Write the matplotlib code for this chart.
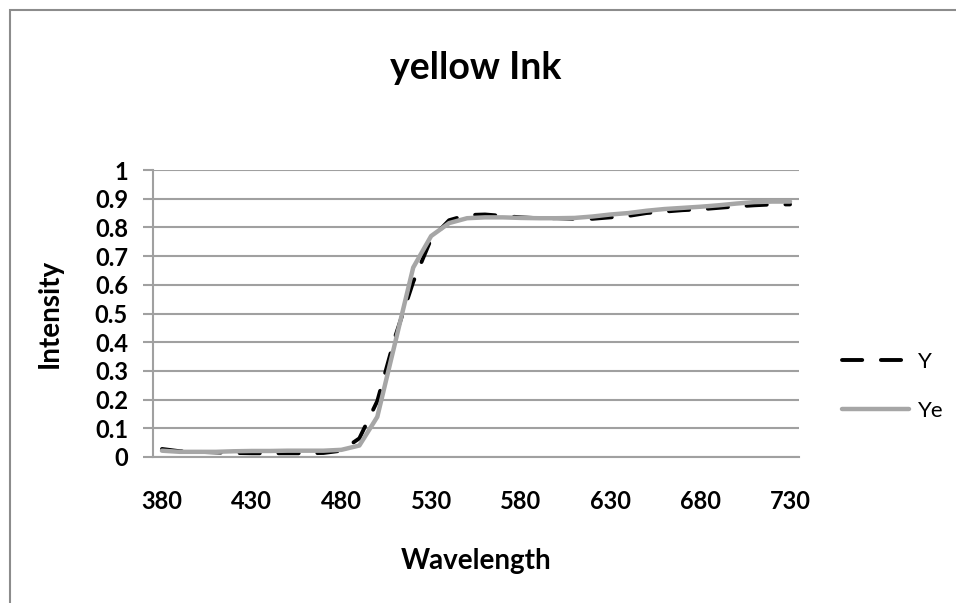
import matplotlib
matplotlib.use("Agg")
import matplotlib.pyplot as plt
from matplotlib.patches import Rectangle
import numpy as np

# Spectral data, 380-730 nm in 10 nm steps
wavelengths = list(range(380, 731, 10))
tick_labels = ["380", "430", "480", "530", "580", "630", "680", "730"]

y_measured = [0.028, 0.020, 0.018, 0.016, 0.014, 0.013, 0.013, 0.013, 0.013, 0.014,
              0.022, 0.065, 0.195, 0.420, 0.610, 0.760, 0.825, 0.843, 0.845, 0.840,
              0.835, 0.832, 0.832, 0.830, 0.830, 0.835, 0.840, 0.850, 0.855, 0.860,
              0.863, 0.868, 0.873, 0.877, 0.880, 0.880]

ye_estimated = [0.022, 0.018, 0.018, 0.018, 0.020, 0.021, 0.021, 0.022, 0.022, 0.022,
                0.025, 0.040, 0.140, 0.400, 0.660, 0.770, 0.815, 0.832, 0.835, 0.835,
                0.833, 0.832, 0.832, 0.833, 0.838, 0.845, 0.850, 0.858, 0.864, 0.868,
                0.872, 0.877, 0.883, 0.888, 0.890, 0.890]

FONT = ["Lato", "DejaVu Sans"]
GRID = "#a0a0a0"
W, H = 956, 603

fig = plt.figure(figsize=(W / 100, H / 100), dpi=100)

# chart-area frame (runs off the right and bottom edges)
fig.patches.append(Rectangle((10 / W, -0.1), 1.2, 1.1 - 10 / H,
                             transform=fig.transFigure, fill=False,
                             edgecolor="#8c8c8c", linewidth=1.5))

ax = fig.add_axes([153 / W, (H - 457) / H, 646 / W, 287 / H])

x = np.arange(len(wavelengths))
ax.plot(x, y_measured, color="black", linewidth=2.8, dashes=(5.2, 4.8),
        solid_capstyle="round", dash_capstyle="round", label="Y", zorder=3)
ax.plot(x, ye_estimated, color="#a6a6a6", linewidth=3.2,
        solid_capstyle="round", label="Ye", zorder=4)

ax.set_xlim(-0.5, len(wavelengths) - 0.5)
ax.set_ylim(0, 1)
ax.set_xticks(x[::5])
ax.set_xticklabels(tick_labels)
ax.set_yticks(np.round(np.arange(0, 1.01, 0.1), 1))
ax.set_yticklabels(["0"] + [f"{v:.1f}" for v in np.arange(0.1, 0.95, 0.1)] + ["1"])

ax.yaxis.grid(True, color=GRID, linewidth=1.5)
ax.set_axisbelow(True)
for side in ("top", "right"):
    ax.spines[side].set_visible(False)
for side in ("left", "bottom"):
    ax.spines[side].set_color(GRID)
    ax.spines[side].set_linewidth(1.5)

ax.tick_params(axis="y", length=7, width=1.5, color=GRID, pad=11)
ax.tick_params(axis="x", length=0, pad=24)
for lbl in ax.get_xticklabels() + ax.get_yticklabels():
    lbl.set_fontfamily(FONT)
    lbl.set_fontweight("bold")
    lbl.set_fontsize(17)

fig.text(476 / W, 1 - 68 / H, "yellow Ink", ha="center", va="center",
         family=FONT, fontweight="bold", fontsize=27)
fig.text(476 / W, 1 - 561 / H, "Wavelength", ha="center", va="center",
         family=FONT, fontweight="bold", fontsize=20)
fig.text(50 / W, 1 - 313 / H, "Intensity", ha="center", va="center",
         rotation=90, family=FONT, fontweight="bold", fontsize=20)

leg = fig.legend(loc="upper left", bbox_to_anchor=(822 / W, 1 - 332 / H),
                 frameon=False, prop={"family": FONT, "size": 16},
                 handlelength=3.0, handletextpad=0.4, labelspacing=1.3)

fig.savefig("out.png", dpi=100)
